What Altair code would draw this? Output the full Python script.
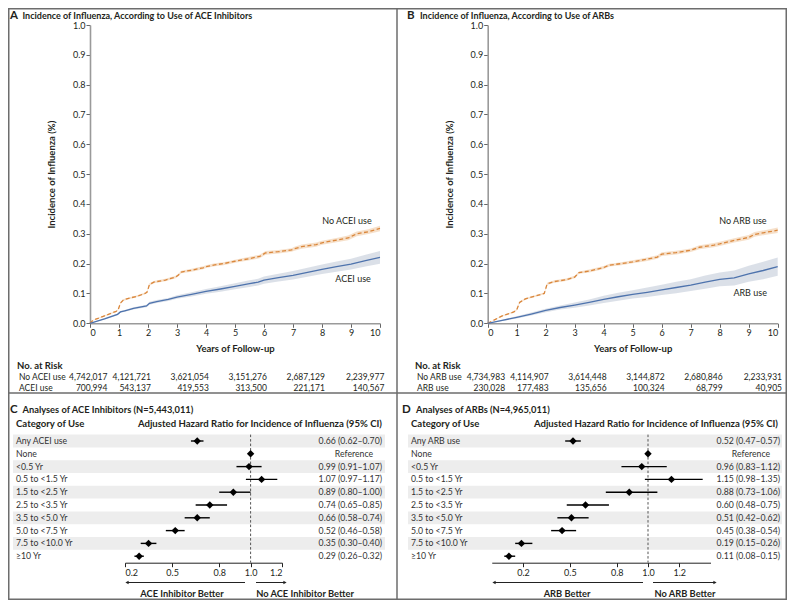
import altair as alt
import pandas as pd

# ---------------- data: Kaplan-Meier curves (panels A and B) ----------------
no_acei_t = [0, 0.1, 0.5, 0.9, 0.97, 1.05, 1.15, 1.3, 1.6, 1.9, 1.97, 2.05, 2.2, 2.6, 2.95, 3.05, 3.15, 3.5, 3.9, 4.0,
             4.3, 4.6, 5.0, 5.5, 5.85, 5.95, 6.05, 6.5, 6.95, 7.05, 7.3, 7.8, 8.0, 8.5, 8.9, 9.05, 9.2, 9.6, 10.0]
no_acei_y = [0, 0.01, 0.025, 0.04, 0.045, 0.068, 0.078, 0.083, 0.09, 0.1, 0.105, 0.13, 0.138, 0.145, 0.155, 0.162,
             0.172, 0.178, 0.186, 0.19, 0.196, 0.2, 0.208, 0.217, 0.224, 0.23, 0.236, 0.24, 0.246, 0.25, 0.257, 0.264,
             0.27, 0.279, 0.286, 0.293, 0.3, 0.307, 0.318]
no_acei_ci = [0, 0.001, 0.002, 0.002, 0.002, 0.003, 0.003, 0.003, 0.003, 0.003, 0.003, 0.004, 0.004, 0.004, 0.004,
              0.004, 0.004, 0.005, 0.005, 0.005, 0.005, 0.005, 0.005, 0.006, 0.006, 0.006, 0.006, 0.006, 0.006, 0.007,
              0.007, 0.007, 0.007, 0.007, 0.008, 0.008, 0.008, 0.008, 0.009]

acei_t = [0, 0.5, 0.95, 1.05, 1.2, 1.5, 1.95, 2.05, 2.3, 2.7, 3.0, 3.5, 4.0, 4.5, 5.0, 5.5, 5.8, 6.0, 6.5, 7.0, 7.5,
          8.0, 8.5, 9.0, 9.5, 10.0]
acei_y = [0, 0.015, 0.03, 0.038, 0.042, 0.05, 0.058, 0.067, 0.073, 0.08, 0.088, 0.097, 0.107, 0.115, 0.124, 0.133,
          0.138, 0.145, 0.153, 0.161, 0.171, 0.181, 0.19, 0.198, 0.21, 0.221]
acei_ci = [0, 0.002, 0.003, 0.003, 0.003, 0.004, 0.004, 0.005, 0.005, 0.005, 0.006, 0.007, 0.008, 0.009, 0.01, 0.011,
           0.011, 0.012, 0.013, 0.014, 0.015, 0.016, 0.017, 0.018, 0.02, 0.021]

no_arb_t = [0, 0.3, 0.5, 0.9, 1.0, 1.1, 1.3, 1.6, 1.95, 2.05, 2.3, 2.7, 3.0, 3.15, 3.5, 4.0, 4.2, 4.6, 5.0, 5.5, 5.85,
            6.0, 6.5, 7.0, 7.3, 7.8, 8.0, 8.5, 9.0, 9.2, 9.6, 10.0]
no_arb_y = [0, 0.015, 0.025, 0.038, 0.045, 0.07, 0.082, 0.09, 0.1, 0.132, 0.14, 0.146, 0.155, 0.17, 0.175, 0.187,
            0.195, 0.2, 0.206, 0.215, 0.222, 0.232, 0.237, 0.245, 0.255, 0.262, 0.266, 0.278, 0.288, 0.298, 0.305,
            0.312]
no_arb_ci = [0, 0.001, 0.002, 0.002, 0.002, 0.003, 0.003, 0.003, 0.003, 0.004, 0.004, 0.004, 0.004, 0.004, 0.005,
             0.005, 0.005, 0.005, 0.005, 0.006, 0.006, 0.006, 0.006, 0.006, 0.007, 0.007, 0.007, 0.007, 0.008, 0.008,
             0.008, 0.009]

arb_t = [0, 0.5, 1, 1.5, 2, 2.5, 3, 3.5, 4, 4.5, 5, 5.5, 6, 6.5, 7, 7.5, 8, 8.5, 9, 9.5, 10]
arb_y = [0, 0.01, 0.02, 0.031, 0.043, 0.053, 0.061, 0.07, 0.08, 0.089, 0.097, 0.104, 0.112, 0.12, 0.128, 0.138,
         0.147, 0.152, 0.166, 0.177, 0.19]
arb_ci = [0, 0.002, 0.004, 0.005, 0.006, 0.007, 0.009, 0.01, 0.012, 0.013, 0.014, 0.016, 0.017, 0.019, 0.02, 0.022,
          0.023, 0.025, 0.027, 0.029, 0.031]

# number at risk
risk_cols = [0.6, 2.1, 4.1, 6.1, 8.1, 10.15]   # column anchor, in years (right edge of each number)
risk_no_acei = [4742017, 4121721, 3621054, 3151276, 2687129, 2239977]
risk_acei = [700994, 543137, 419553, 313500, 221171, 140567]
risk_no_arb = [4734983, 4114907, 3614448, 3144872, 2680846, 2233931]
risk_arb = [230028, 177483, 135656, 100324, 68799, 40905]

# ---------------- data: forest plots (panels C and D) ----------------
cats_c = ["Any ACEI use", "None", "<0.5 Yr", "0.5 to <1.5 Yr", "1.5 to <2.5 Yr", "2.5 to <3.5 Yr",
          "3.5 to <5.0 Yr", "5.0 to <7.5 Yr", "7.5 to <10.0 Yr", "\u226510 Yr"]
hr_c = [0.66, 1.00, 0.99, 1.07, 0.89, 0.74, 0.66, 0.52, 0.35, 0.29]
lo_c = [0.62, None, 0.91, 0.97, 0.80, 0.65, 0.58, 0.46, 0.30, 0.26]
hi_c = [0.70, None, 1.07, 1.17, 1.00, 0.85, 0.74, 0.58, 0.40, 0.32]

cats_d = ["Any ARB use", "None", "<0.5 Yr", "0.5 to <1.5 Yr", "1.5 to <2.5 Yr", "2.5 to <3.5 Yr",
          "3.5 to <5.0 Yr", "5.0 to <7.5 Yr", "7.5 to <10.0 Yr", "\u226510 Yr"]
hr_d = [0.52, 1.00, 0.96, 1.15, 0.88, 0.60, 0.51, 0.45, 0.19, 0.11]
lo_d = [0.47, None, 0.83, 0.98, 0.73, 0.48, 0.42, 0.38, 0.15, 0.08]
hi_d = [0.57, None, 1.12, 1.35, 1.06, 0.75, 0.62, 0.54, 0.26, 0.15]

forest_ticks = [0.2, 0.5, 0.8, 1.0, 1.2]
km_y_ticks = [0, 0.1, 0.2, 0.3, 0.4, 0.5, 0.6, 0.7, 0.8, 0.9, 1.0]
km_x_ticks = list(range(0, 11))

# ---------------- styles ----------------
FONT = "Lato"
TXT = "#231f20"
ORANGE = "#DA873C"
ORANGE_BAND = "#F5DDC4"
BLUE = "#4E73AD"
BLUE_BAND = "#D7DDE6"
AXIS_GREY = "#9a9a9a"
SHADE = "#EDEDED"

W, H = 779, 592


def sc(domain, rng):
    return alt.Scale(domain=domain, range=rng, nice=False, zero=False)


xA = sc([0, 10], [82, 372])
xB = sc([0, 10], [479.7, 769.7])
yKM = sc([0, 1], [315.3, 17])
xC = sc([0.2, 1.2], [117, 274])
xD = sc([0, 1.4], [483.75, 702.5])
yRow = sc([-0.5, 9.5], [426.6, 554.6])


def label(text, x, y, size=8.5, weight="normal", align="left", color=TXT, baseline="alphabetic"):
    kw = dict(text=text, font=FONT, fontSize=size, fontWeight=weight, align=align, color=color,
              baseline=baseline)
    return alt.Chart(pd.DataFrame({"k": [0]})).mark_text(**kw).encode(x=alt.value(x), y=alt.value(y))


def km_panel(xs, y_off_x, curves, names, name_pos, risk_rows, row_names, risk_x0):
    layers = []
    # confidence bands
    for (t, y, ci, color, band, dashed) in curves:
        df = pd.DataFrame({"t": t, "y": y, "lo": [a - b for a, b in zip(y, ci)],
                           "hi": [a + b for a, b in zip(y, ci)]})
        layers.append(alt.Chart(df).mark_area(color=band, opacity=0.9).encode(
            x=alt.X("t:Q", scale=xs, axis=None),
            y=alt.Y("lo:Q", scale=yKM, axis=None), y2="hi:Q"))
    for k, (t, y, ci, color, band, dashed) in enumerate(curves):
        df = pd.DataFrame({"t": t, "y": y})
        mk = dict(color=color, strokeWidth=1.3)
        if dashed:
            mk["strokeDash"] = [4, 2.5]
        if k == 0:
            xax = alt.Axis(values=km_x_ticks, format="d", orient="bottom", offset=315.3 - H, grid=False,
                           domainColor=AXIS_GREY, domainWidth=1.6, tickColor="#666", tickSize=4,
                           labelFont=FONT, labelFontSize=9, labelColor=TXT, labelPadding=1,
                           title="Years of Follow-up", titleFont=FONT, titleFontSize=9.5,
                           titleFontWeight="bold", titleColor=TXT, titlePadding=6)
            yax = alt.Axis(values=km_y_ticks, format=".1f", orient="left", offset=y_off_x, grid=False,
                           domainColor=AXIS_GREY, domainWidth=1.6, tickColor="#666", tickSize=4,
                           labelFont=FONT, labelFontSize=9, labelColor=TXT, labelPadding=1,
                           title="Incidence of Influenza (%)", titleFont=FONT, titleFontSize=9.5,
                           titleFontWeight="bold", titleColor=TXT, titlePadding=16)
        else:
            xax = None
            yax = None
        layers.append(alt.Chart(df).mark_line(**mk).encode(
            x=alt.X("t:Q", scale=xs, axis=xax),
            y=alt.Y("y:Q", scale=yKM, axis=yax)))
    # curve labels
    for (nm, (nx, ny)) in zip(names, name_pos):
        layers.append(alt.Chart(pd.DataFrame({"t": [nx], "y": [ny], "s": [nm]})).mark_text(
            font=FONT, fontSize=9, color=TXT, align="center", baseline="middle").encode(
            x=alt.X("t:Q", scale=xs, axis=None), y=alt.Y("y:Q", scale=yKM, axis=None), text="s:N"))
    # number at risk
    layers.append(label("No. at Risk", risk_x0, 360.5, size=9.5, weight="bold"))
    for row, (rn, vals, ypix) in enumerate(zip(row_names, risk_rows, [371.5, 382.5])):
        layers.append(label(rn, risk_x0 + 2, ypix, size=8.5))
        df = pd.DataFrame({"t": risk_cols, "s": [f"{v:,}" for v in vals]})
        layers.append(alt.Chart(df).mark_text(font=FONT, fontSize=8.5, color=TXT, align="right",
                                              baseline="alphabetic").encode(
            x=alt.X("t:Q", scale=xs, axis=None), y=alt.value(ypix), text="s:N"))
    return layers


def forest_panel(xs, cats, hr, lo, hi, left, right, val_right, ref_center, arrows, arrow_labels):
    layers = []
    idx = list(range(len(cats)))
    shade = pd.DataFrame({"r0": [i - 0.5 for i in idx if i % 2 == 0], "r1": [i + 0.5 for i in idx if i % 2 == 0]})
    layers.append(alt.Chart(shade).mark_rect(color=SHADE).encode(
        x=alt.value(left), x2=alt.value(right),
        y=alt.Y("r0:Q", scale=yRow, axis=None), y2="r1:Q"))
    layers.append(alt.Chart(pd.DataFrame({"x": [1.0], "r0": [-0.5], "r1": [9.5]})).mark_rule(
        color="#555", strokeDash=[2.5, 2], strokeWidth=1).encode(
        x=alt.X("x:Q", scale=xs, axis=None), y=alt.Y("r0:Q", scale=yRow, axis=None), y2="r1:Q"))
    ci = pd.DataFrame({"i": idx, "lo": lo, "hi": hi}).dropna()
    layers.append(alt.Chart(ci).mark_rule(color="black", strokeWidth=1.4).encode(
        x=alt.X("lo:Q", scale=xs, axis=None), x2="hi:Q", y=alt.Y("i:Q", scale=yRow, axis=None)))
    pts = pd.DataFrame({"i": idx, "hr": hr})
    xax = alt.Axis(values=forest_ticks, format=".1f", orient="bottom", offset=554.7 - H, grid=False,
                   domainColor="#222", domainWidth=1, tickColor="#222", tickSize=4,
                   labelFont=FONT, labelFontSize=9, labelColor=TXT, labelPadding=2, title=None)
    layers.append(alt.Chart(pts).mark_point(shape="diamond", filled=True, color="black", size=55,
                                            opacity=1).encode(
        x=alt.X("hr:Q", scale=xs, axis=xax), y=alt.Y("i:Q", scale=yRow, axis=None)))
    # category labels
    layers.append(alt.Chart(pd.DataFrame({"i": idx, "s": cats})).mark_text(
        font=FONT, fontSize=8.7, color="#333", align="left", baseline="middle").encode(
        x=alt.value(left + 3), y=alt.Y("i:Q", scale=yRow, axis=None), text="s:N"))
    txt = [f"{h:.2f} ({a:.2f}\u2013{b:.2f})" for h, a, b in zip(hr, lo, hi) if a is not None]
    tix = [i for i, a in zip(idx, lo) if a is not None]
    layers.append(alt.Chart(pd.DataFrame({"i": tix, "s": txt})).mark_text(
        font=FONT, fontSize=8.7, color="#333", align="right", baseline="middle").encode(
        x=alt.value(val_right), y=alt.Y("i:Q", scale=yRow, axis=None), text="s:N"))
    rix = [i for i, a in zip(idx, lo) if a is None]
    layers.append(alt.Chart(pd.DataFrame({"i": rix, "s": ["Reference"] * len(rix)})).mark_text(
        font=FONT, fontSize=8.7, color="#333", align="center", baseline="middle").encode(
        x=alt.value(ref_center), y=alt.Y("i:Q", scale=yRow, axis=None), text="s:N"))
    # arrows
    (l0, l1), (r0, r1) = arrows
    ay = 574.5
    one = pd.DataFrame({"k": [0]})
    layers.append(alt.Chart(one).mark_rule(color="#222", strokeWidth=1).encode(
        x=alt.value(l0 + 3), x2=alt.value(l1), y=alt.value(ay)))
    layers.append(alt.Chart(one).mark_rule(color="#222", strokeWidth=1).encode(
        x=alt.value(r0), x2=alt.value(r1 - 3), y=alt.value(ay)))
    layers.append(alt.Chart(one).mark_point(shape="triangle-left", filled=True,
                                            color="#222", size=14, opacity=1).encode(
        x=alt.value(l0 + 2), y=alt.value(ay)))
    layers.append(alt.Chart(one).mark_point(shape="triangle-right", filled=True,
                                            color="#222", size=14, opacity=1).encode(
        x=alt.value(r1 - 2), y=alt.value(ay)))
    (ltxt, lcx), (rtxt, rcx) = arrow_labels
    layers.append(label(ltxt, lcx, 588.5, size=9.3, weight="bold", align="center"))
    layers.append(label(rtxt, rcx, 588.5, size=9.3, weight="bold", align="center"))
    return layers


layers = []
one = pd.DataFrame({"k": [0]})

# frame and dividers
layers.append(alt.Chart(one).mark_rect(fillOpacity=0, stroke="#6d6d6d", strokeWidth=1.5).encode(
    x=alt.value(0.75), x2=alt.value(W - 0.75), y=alt.value(0.75), y2=alt.value(H - 0.75)))
layers.append(alt.Chart(one).mark_rule(color="#6d6d6d", strokeWidth=1.5).encode(
    x=alt.value(389), y=alt.value(0), y2=alt.value(H)))
layers.append(alt.Chart(one).mark_rule(color="#6d6d6d", strokeWidth=1.5).encode(
    x=alt.value(0), x2=alt.value(W), y=alt.value(385)))

# Panel A
layers.append(label("A", 2, 10.5, size=11.5, weight="bold"))
layers.append(label("Incidence of Influenza, According to Use of ACE Inhibitors", 14.5, 10.5, size=9, weight="bold"))
layers += km_panel(xA, -82,
                   [(no_acei_t, no_acei_y, no_acei_ci, ORANGE, ORANGE_BAND, True),
                    (acei_t, acei_y, acei_ci, BLUE, BLUE_BAND, False)],
                   ["No ACEI use", "ACEI use"], [(8.86, 0.342), (9.07, 0.148)],
                   [risk_no_acei, risk_acei], ["No ACEI use", "ACEI use"], 9)

# Panel B
layers.append(label("B", 399, 10.5, size=11.5, weight="bold"))
layers.append(label("Incidence of Influenza, According to Use of ARBs", 412, 10.5, size=9, weight="bold"))
layers += km_panel(xB, -479.7,
                   [(no_arb_t, no_arb_y, no_arb_ci, ORANGE, ORANGE_BAND, True),
                    (arb_t, arb_y, arb_ci, BLUE, BLUE_BAND, False)],
                   ["No ARB use", "ARB use"], [(8.8, 0.342), (9.05, 0.102)],
                   [risk_no_arb, risk_arb], ["No ARB use", "ARB use"], 407)

# Panel C
layers.append(label("C", 2, 404.5, size=11.5, weight="bold"))
layers.append(label("Analyses of ACE Inhibitors (N=5,443,011)", 14.5, 404.5, size=9.3, weight="bold"))
layers.append(label("Category of Use", 8, 418.5, size=9.6, weight="bold"))
layers.append(label("Adjusted Hazard Ratio for Incidence of Influenza (95% CI)", 374, 418.5, size=9.6,
                    weight="bold", align="right"))
layers += forest_panel(xC, cats_c, hr_c, lo_c, hi_c, 5, 377, 374, 346,
                       ((117, 237), (248, 279)),
                       (("ACE Inhibitor Better", 174), ("No ACE Inhibitor Better", 297)))

# Panel D
layers.append(label("D", 394, 404.5, size=11.5, weight="bold"))
layers.append(label("Analyses of ARBs (N=4,965,011)", 408, 404.5, size=9.3, weight="bold"))
layers.append(label("Category of Use", 403, 418.5, size=9.6, weight="bold"))
layers.append(label("Adjusted Hazard Ratio for Incidence of Influenza (95% CI)", 770, 418.5, size=9.6,
                    weight="bold", align="right"))
layers += forest_panel(xD, cats_d, hr_d, lo_d, hi_d, 400, 774, 772, 743,
                       ((484, 635), (645, 709)),
                       (("ARB Better", 559), ("No ARB Better", 677)))

chart = alt.layer(*layers).resolve_scale(x="independent", y="independent").properties(
    width=W, height=H, padding=0, autosize=alt.AutoSizeParams(type="none")
).configure_view(stroke=None)

chart.save("out.html", embed_options={"renderer": "svg", "actions": False})
